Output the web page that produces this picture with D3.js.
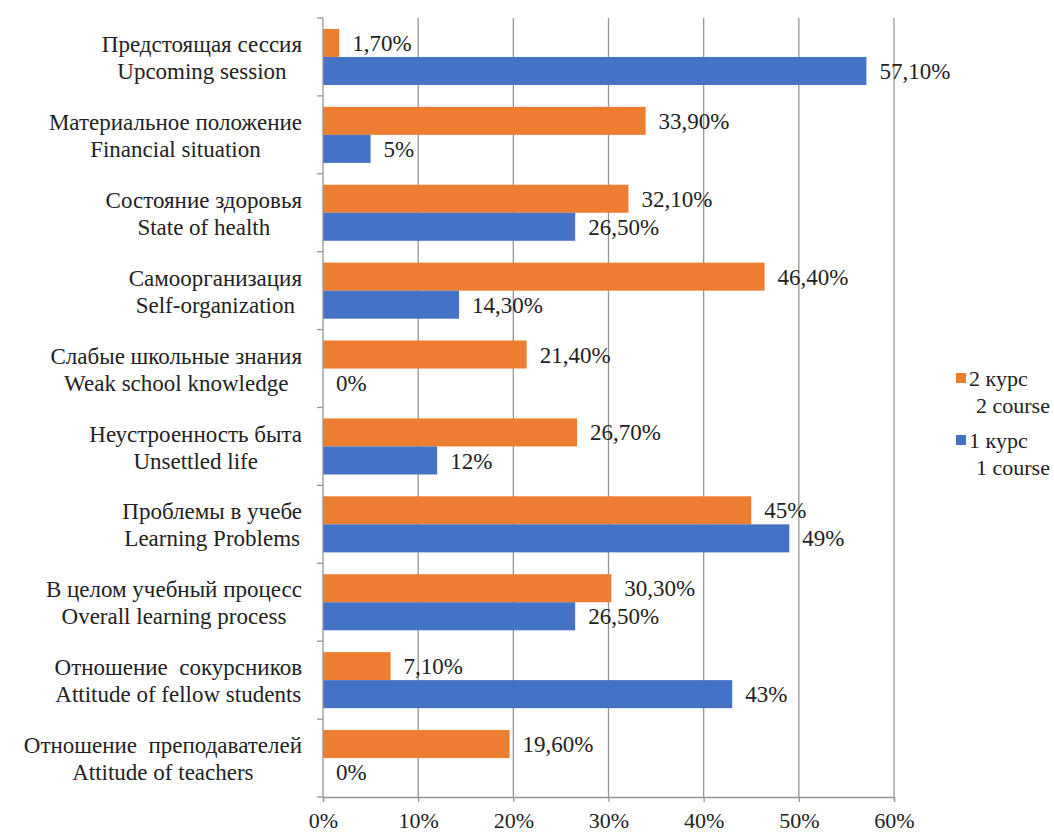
<!DOCTYPE html>
<html><head><meta charset="utf-8">
<script src="https://cdn.jsdelivr.net/npm/d3@7"></script>
<style>body{margin:0;background:#fff}svg{display:block}text{font-family:"Liberation Serif","Times New Roman",serif;fill:#222;white-space:pre}</style>
</head><body><svg id="c" width="1054" height="838" font-family="Liberation Serif, serif"></svg>
<script>
const catsRu = ["Предстоящая сессия","Материальное положение","Состояние здоровья","Самоорганизация","Слабые школьные знания","Неустроенность быта","Проблемы в учебе","В целом учебный процесс","Отношение  сокурсников","Отношение  преподавателей"];
const catsEn = ["Upcoming session","Financial situation","State of health","Self-organization","Weak school knowledge","Unsettled life","Learning Problems","Overall learning process","Attitude of fellow students","Attitude of teachers"];
const course2 = [1.7,33.9,32.1,46.4,21.4,26.7,45,30.3,7.1,19.6];
const course1 = [57.1,5,26.5,14.3,0,12,49,26.5,43,0];
const labels2 = ["1,70%","33,90%","32,10%","46,40%","21,40%","26,70%","45%","30,30%","7,10%","19,60%"];
const labels1 = ["57,10%","5%","26,50%","14,30%","0%","12%","49%","26,50%","43%","0%"];
const ticks = [0,10,20,30,40,50,60];
const tickLabels = ["0%","10%","20%","30%","40%","50%","60%"];
const seriesNames = [["2 курс","2 course"],["1 курс","1 course"]];
const colors = ["#ED7D31","#4472C4"];

const svg = d3.select("#c");
const x = d3.scaleLinear().domain([0,60]).range([323,894]);
const y = d3.scaleBand().domain(d3.range(catsRu.length)).range([18,797]).paddingInner(0).paddingOuter(0);
const yi = d3.scaleBand().domain([0,1]).range([0,y.bandwidth()]).paddingOuter(0.39).paddingInner(0);

// gridlines
svg.append("g").selectAll("line").data(ticks.slice(1)).join("line")
  .attr("x1",d=>x(d)).attr("x2",d=>x(d)).attr("y1",18).attr("y2",797)
  .attr("stroke","#959595").attr("stroke-width",1.3);

// bars
const series = [course2, course1];
const lbls = [labels2, labels1];
series.forEach((s,si)=>{
  const g = svg.append("g");
  g.selectAll("rect").data(s).join("rect")
    .attr("x",x(0)).attr("y",(d,i)=>y(i)+yi(si))
    .attr("width",d=>x(d)-x(0)).attr("height",yi.bandwidth())
    .attr("fill",colors[si]);
  g.selectAll("text").data(s).join("text")
    .attr("x",d=>x(d)+13).attr("y",(d,i)=>y(i)+yi(si)+yi.bandwidth()/2)
    .attr("dy","0.35em").attr("font-size",23).text((d,i)=>lbls[si][i]);
});

// y axis line and ticks
svg.append("line").attr("x1",x(0)).attr("x2",x(0)).attr("y1",18).attr("y2",797).attr("stroke","#959595").attr("stroke-width",1.3);
svg.append("g").selectAll("line").data(d3.range(catsRu.length+1)).join("line")
  .attr("x1",x(0)-6).attr("x2",x(0)).attr("y1",i=>18+i*y.step()).attr("y2",i=>18+i*y.step())
  .attr("stroke","#959595").attr("stroke-width",1.3);
// x axis
const xa = svg.append("g").attr("transform","translate(0,797)").call(d3.axisBottom(x).tickValues(ticks).tickFormat((d,i)=>tickLabels[i]).tickSize(5).tickPadding(10));
xa.attr("font-family","Liberation Serif, serif");
xa.select(".domain").attr("stroke","#959595").attr("stroke-width",1.3);
xa.selectAll(".tick line").attr("stroke","#959595").attr("stroke-width",1.3);
xa.selectAll("text").attr("font-size",22).attr("fill","#222");

// category labels
catsRu.forEach((ru,i)=>{
  const g = svg.append("g");
  const c = y(i)+y.bandwidth()/2;
  const t1 = g.append("text").attr("y",c-13).attr("dy","0.35em").attr("font-size",23).text(ru);
  const t2 = g.append("text").attr("y",c+14).attr("dy","0.35em").attr("font-size",23).text(catsEn[i]);
  const w = Math.max(t1.node().getComputedTextLength(), t2.node().getComputedTextLength());
  const cx = 302 - w/2;
  t1.attr("x",cx).attr("text-anchor","middle");
  t2.attr("x",cx).attr("text-anchor","middle");
});

// legend
seriesNames.forEach((n,i)=>{
  const ly = 378 + i*62;
  svg.append("rect").attr("x",956).attr("y",ly-5).attr("width",10).attr("height",10).attr("fill",colors[i]);
  svg.append("text").attr("x",969).attr("y",ly).attr("dy","0.35em").attr("font-size",22).text(n[0]);
  svg.append("text").attr("x",976).attr("y",ly+27).attr("dy","0.35em").attr("font-size",22).text(n[1]);
});
</script></body></html>
